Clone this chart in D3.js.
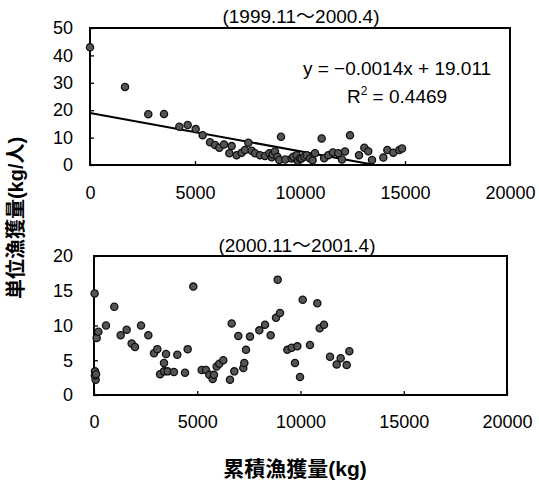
<!DOCTYPE html>
<html>
<head>
<meta charset="utf-8">
<script src="https://cdn.jsdelivr.net/npm/d3@7"></script>
<style>
  body { margin: 0; background: #fff; }
  text { font-family: "Liberation Sans", Arial, "Noto Sans CJK JP", sans-serif; fill: #000; }
</style>
</head>
<body>
<div id="chart"></div>
<script>
// 上段 (1999.11～2000.4) 累積漁獲量 vs 単位漁獲量
const catch1 = [0, 1667, 2776, 3524, 4254, 4651, 5032, 5365, 5714, 5952, 6159, 6381, 6746, 6635, 6984, 7222,
  7381, 7540, 7698, 7857, 8095, 8333, 8540, 8651, 8700, 8809, 8920, 9016, 9095, 9300, 9603, 9683, 9841, 9900,
  10000, 10079, 10200, 10317, 10476, 10600, 10714, 11032, 11150, 11349, 11570, 11825, 12000, 12143, 12381,
  12810, 13063, 13250, 13430, 13968, 14159, 14444, 14730, 14860];
const cpue1 = [43, 28.5, 18.5, 18.6, 14.0, 14.6, 13.1, 10.9, 8.3, 7.3, 6.3, 7.5, 6.9, 4.3, 3.6, 4.5,
  5.5, 8.1, 5.2, 4.3, 3.6, 3.3, 4.3, 2.8, 3.8, 4.9, 3.0, 1.8, 10.3, 2.0, 2.4, 3.0, 3.6, 1.5,
  2.4, 2.4, 3.0, 3.6, 2.4, 1.7, 4.3, 9.7, 2.5, 3.6, 4.6, 4.3, 2.0, 4.9, 10.9,
  3.6, 6.3, 5.0, 1.8, 2.7, 5.5, 4.5, 5.5, 6.0];
// 回帰式
const slope1 = -0.0014, intercept1 = 19.011;
const eqLabels = ["y = \u22120.0014x + 19.011", "R", "2", " = 0.4469"];

// 下段 (2000.11～2001.4)
const catch2 = [30, 50, 80, 40, 100, 130, 210, 581, 983, 1291, 1582, 1823, 1985, 2276, 2631, 2906, 3066,
  3390, 3487, 4035, 4536, 4407, 3200, 3390, 3560, 3870, 4810, 5214, 5423, 5584, 5746, 5810, 5939, 6068,
  6262, 6585, 6666, 6795, 6989, 7231, 7280, 7361, 7554, 8006, 8281, 8555, 8813, 9007, 8895, 9362, 9573,
  9848, 9733, 9977, 10106, 10460, 10814, 10930, 11138, 11428, 11751, 11945, 12236, 12365];
const cpue2 = [14.6, 3.4, 2.2, 2.8, 3.0, 8.2, 9.1, 10.0, 12.7, 8.6, 9.4, 7.4, 6.9, 10.0, 8.6, 6.0, 6.6,
  4.6, 5.9, 5.8, 6.6, 3.2, 3.0, 3.4, 3.4, 3.3, 15.6, 3.6, 3.6, 2.9, 2.3, 2.9, 4.1, 4.5,
  5.0, 2.2, 10.3, 3.4, 8.5, 3.9, 4.6, 6.5, 8.4, 9.3, 10.1, 8.6, 11.1, 11.8, 16.6, 6.5, 6.8,
  7.0, 4.6, 2.6, 13.7, 7.2, 13.2, 9.6, 10.1, 5.5, 4.4, 5.3, 4.3, 6.3];

const xTicks = [0, 5000, 10000, 15000, 20000];
const yTicks1 = [0, 10, 20, 30, 40, 50];
const yTicks2 = [0, 5, 10, 15, 20];
const titles = ["(1999.11\uFF5E2000.4)", "(2000.11\uFF5E2001.4)"];
const yTitle = "単位漁獲量(kg/人)";
const xTitle = "累積漁獲量(kg)";

const W = 539, H = 481;
const svg = d3.select('#chart').append('svg').attr('width', W).attr('height', H);

function panel(opt) {
  const x = d3.scaleLinear().domain([0, 20000]).range([opt.left, opt.right]);
  const y = d3.scaleLinear().domain(opt.yDomain).range([opt.bottom, opt.top]);
  const g = svg.append('g');

  // 軸
  g.append('g').attr('transform', `translate(0,${opt.bottom})`)
    .call(d3.axisBottom(x).tickValues(xTicks).tickFormat(d3.format('d'))
      .tickSizeInner(-4).tickSizeOuter(0).tickPadding(opt.xPad))
    .call(a => a.select('.domain').remove())
    .call(a => a.selectAll('line').attr('stroke', '#000').attr('stroke-width', 1.3))
    .call(a => a.selectAll('text').attr('font-size', 18).attr('fill', '#000'));
  g.append('g').attr('transform', `translate(${opt.left},0)`)
    .call(d3.axisLeft(y).tickValues(opt.yTicks).tickFormat(d3.format('d'))
      .tickSizeInner(-4).tickSizeOuter(0).tickPadding(opt.yPad))
    .call(a => a.select('.domain').remove())
    .call(a => a.selectAll('line').attr('stroke', '#000').attr('stroke-width', 1.3))
    .call(a => a.selectAll('text').attr('font-size', 18).attr('fill', '#000'));

  // 枠
  g.append('rect')
    .attr('x', opt.left).attr('y', opt.top)
    .attr('width', opt.right - opt.left).attr('height', opt.bottom - opt.top)
    .attr('fill', 'none').attr('stroke', '#000').attr('stroke-width', 2);

  // タイトル
  g.append('text').attr('x', opt.titleX).attr('y', opt.titleY)
    .attr('text-anchor', 'middle').attr('font-size', 19).text(opt.title);

  return { x, y, g };
}

const p1 = panel({ left: 90, right: 510, top: 28, bottom: 165, yDomain: [0, 50], yTicks: yTicks1,
  xPad: 21, yPad: 17, title: titles[0], titleX: 301, titleY: 23 });
const p2 = panel({ left: 94, right: 507, top: 256, bottom: 395, yDomain: [0, 20], yTicks: yTicks2,
  xPad: 20, yPad: 21, title: titles[1], titleX: 297, titleY: 252 });

// 回帰直線
const xEnd = -intercept1 / slope1;
p1.g.append('line')
  .attr('x1', p1.x(0)).attr('y1', p1.y(intercept1))
  .attr('x2', p1.x(xEnd)).attr('y2', p1.y(0))
  .attr('stroke', '#000').attr('stroke-width', 2);

function dots(p, xs, ys) {
  p.g.selectAll(null).data(xs.map((v, i) => [v, ys[i]])).enter()
    .append('circle')
    .attr('cx', d => p.x(d[0])).attr('cy', d => p.y(d[1]))
    .attr('r', 3.6)
    .attr('fill', '#555').attr('stroke', '#111').attr('stroke-width', 1.3);
}
dots(p1, catch1, cpue1);
dots(p2, catch2, cpue2);

// 式
p1.g.append('text').attr('x', 397).attr('y', 75).attr('text-anchor', 'middle')
  .attr('font-size', 19).text(eqLabels[0]);
const r2 = p1.g.append('text').attr('x', 397).attr('y', 103).attr('text-anchor', 'middle').attr('font-size', 19);
r2.append('tspan').text(eqLabels[1]);
r2.append('tspan').attr('font-size', 12).attr('dy', -8).text(eqLabels[2]);
r2.append('tspan').attr('dy', 8).text(eqLabels[3]);

// 軸タイトル
svg.append('text')
  .attr('transform', 'translate(23,218) rotate(-90)')
  .attr('text-anchor', 'middle').attr('font-size', 20).attr('font-weight', 'bold')
  .attr('font-family', '"Noto Sans CJK JP", sans-serif')
  .text(yTitle);
svg.append('text')
  .attr('x', 295).attr('y', 476)
  .attr('text-anchor', 'middle').attr('font-size', 21).attr('font-weight', 'bold')
  .attr('font-family', '"Noto Sans CJK JP", sans-serif')
  .text(xTitle);
</script>
</body>
</html>
